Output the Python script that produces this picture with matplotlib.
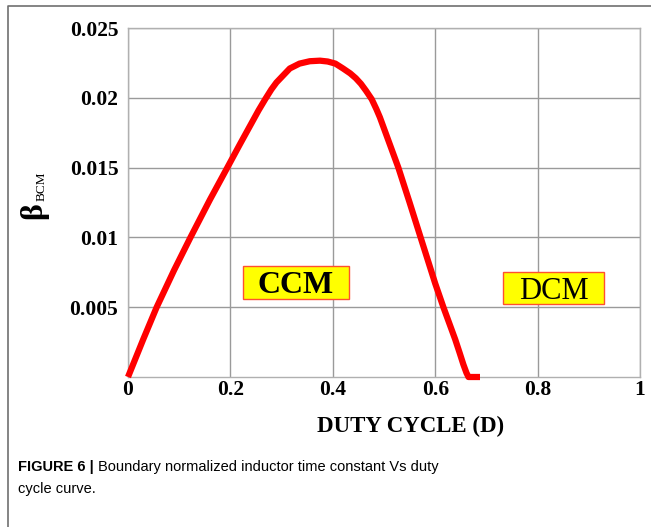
import matplotlib.pyplot as plt
from matplotlib.lines import Line2D
from matplotlib.patches import Rectangle

# values
duty = [0, 0.03, 0.056, 0.09, 0.122, 0.16, 0.194, 0.219, 0.24, 0.255, 0.268, 0.28, 0.29,
        0.303, 0.316, 0.335, 0.355, 0.375, 0.39, 0.405, 0.42, 0.434, 0.445, 0.455, 0.465,
        0.476, 0.485, 0.492, 0.508, 0.528, 0.55, 0.5715, 0.6, 0.616, 0.628, 0.639, 0.648,
        0.655, 0.661, 0.665, 0.6875]
beta = [0, 0.00272, 0.005, 0.00765, 0.0100, 0.0127, 0.0150, 0.0167, 0.0181, 0.0191, 0.0199,
        0.0206, 0.0211, 0.0216, 0.0221, 0.02245, 0.02262, 0.02266, 0.0226, 0.02245, 0.0221,
        0.02175, 0.0214, 0.0210, 0.0205, 0.0199, 0.0192, 0.0186, 0.0170, 0.0150, 0.0125,
        0.0100, 0.0067, 0.0050, 0.0038, 0.0027, 0.0017, 0.0009, 0.0003, 0, 0]

xticks = [0, 0.2, 0.4, 0.6, 0.8, 1]
xticklabels = ['0', '0.2', '0.4', '0.6', '0.8', '1']
yticks = [0.005, 0.01, 0.015, 0.02, 0.025]
yticklabels = ['0.005', '0.01', '0.015', '0.02', '0.025']

serif = 'Liberation Serif'
W, H = 651, 527

fig = plt.figure(figsize=(6.51, 5.27), dpi=100)
ax = fig.add_axes([128 / W, 1 - 377 / H, 512 / W, 349 / H])

ax.plot(duty, beta, color='#ff0000', lw=4.5, solid_capstyle='butt',
        solid_joinstyle='round', clip_on=False, zorder=3)

ax.set_xlim(0, 1)
ax.set_ylim(0, 0.025)
ax.set_xticks(xticks)
ax.set_xticklabels(xticklabels, fontfamily=serif, fontweight='bold', fontsize=15.5)
ax.set_yticks(yticks)
ax.set_yticklabels(yticklabels, fontfamily=serif, fontweight='bold', fontsize=15.5)
ax.tick_params(length=0, pad=2)
ax.tick_params(axis='y', pad=7)
ax.grid(True, color='#9a9a9a', lw=1)
for s in ax.spines.values():
    s.set_color('#b0b0b0')
    s.set_linewidth(1)

ax.set_xlabel('DUTY CYCLE (D)', fontfamily=serif, fontweight='bold', fontsize=16.5)
ax.xaxis.set_label_coords((411 - 128) / 512, -(426 - 377) / 349)
ax.xaxis.label.set_va('center')

# y label: beta with small BCM subscript
fig.text(34 / W, 1 - 211 / H, '\u03b2', fontfamily=serif, fontweight='bold', fontsize=23,
         rotation=90, ha='center', va='center')
fig.text(42 / W, 1 - 186 / H, 'BCM', fontfamily=serif, fontsize=9.5,
         rotation=90, ha='center', va='center')

# region labels in yellow boxes
ax.add_patch(Rectangle((0.2246, 0.00557), 0.207, 0.00241, fc='#ffff00',
                       ec='#ff5030', lw=1, zorder=4))
ax.text(0.328, 0.00677, 'CCM', fontfamily=serif, fontweight='bold', fontsize=23,
        ha='center', va='center_baseline', zorder=5)
ax.add_patch(Rectangle((0.7318, 0.00525), 0.1985, 0.00229, fc='#ffff00',
                       ec='#ff5030', lw=1, zorder=4))
ax.text(0.831, 0.0064, 'DCM', fontfamily=serif, fontsize=22,
        ha='center', va='center_baseline', zorder=5)

# outer frame (top and left)
fig.add_artist(Line2D([8 / W, 8 / W, 1], [0, 1 - 6 / H, 1 - 6 / H],
                      transform=fig.transFigure, color='#707070', lw=1.2))

fig.text(18 / W, 1 - 467 / H, 'FIGURE 6 |', fontfamily='Liberation Sans',
         fontweight='bold', fontsize=10.5, va='center')
fig.text(98 / W, 1 - 467 / H, 'Boundary normalized inductor time constant Vs duty',
         fontfamily='Liberation Sans', fontsize=10.5, va='center')
fig.text(18 / W, 1 - 489 / H, 'cycle curve.', fontfamily='Liberation Sans',
         fontsize=10.5, va='center')

fig.savefig('out.png', dpi=100)
